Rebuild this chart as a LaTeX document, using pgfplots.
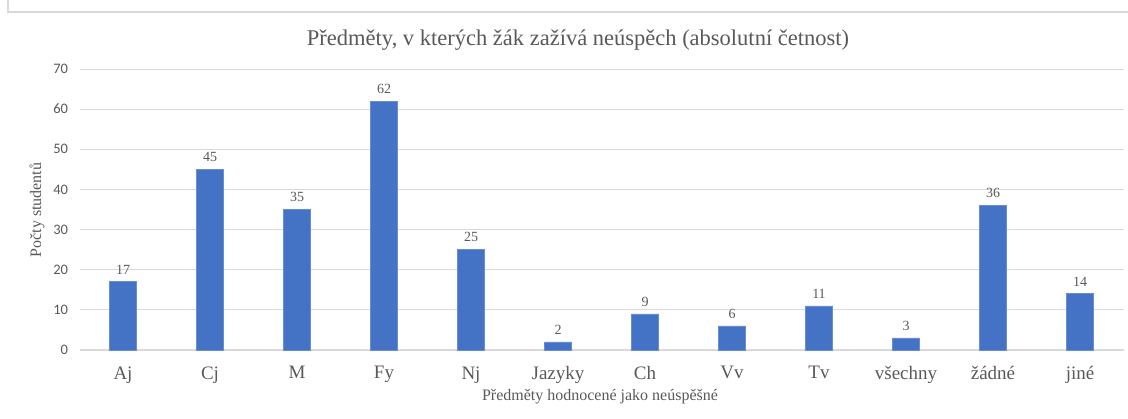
\documentclass[border=0pt]{standalone}
\usepackage{fontspec}
\setmainfont{Liberation Serif}
\newfontfamily\tickfont{Carlito}
\usepackage{pgfplots}
\pgfplotsset{compat=1.18}
\definecolor{barblue}{HTML}{4472C4}
\definecolor{txtgray}{HTML}{595959}
\definecolor{gridgray}{HTML}{D9D9D9}
\begin{document}
\begin{tikzpicture}[x=1pt,y=1pt]
\path[use as bounding box] (0,0) rectangle (1128,418);
\draw[gridgray,line width=1.4pt] (8,420) -- (8,406) -- (1130,406);
\begin{axis}[
  at={(79.5pt,68pt)}, anchor=south west,
  scale only axis,
  width=1044pt, height=281pt,
  xmin=-0.5, xmax=11.5, ymin=0, ymax=70,
  ytick={0,10,...,70},
  xtick={0,...,11},
  xticklabels={Aj,Cj,M,Fy,Nj,Jazyky,Ch,Vv,Tv,všechny,žádné,jiné},
  axis x line*=bottom, axis y line*=left,
  y axis line style={draw=none},
  x axis line style={gridgray,line width=1.2pt},
  ymajorgrids, grid style={gridgray,line width=0.9pt},
  major tick length=0pt,
  tick style={draw=none},
  yticklabel style={font=\tickfont\fontsize{14.5}{14.5}\selectfont,text=txtgray,xshift=-8pt},
  xticklabel style={font=\fontsize{19}{19}\selectfont,text=txtgray,yshift=-13pt},
  /pgf/number format/assume math mode=true,
  ybar, bar width=27pt,
  nodes near coords,
  every node near coord/.append style={font=\fontsize{14}{14}\selectfont,text=txtgray,yshift=4pt},
  clip=false,
]
\addplot[fill=barblue,draw=barblue!80!white,line width=0.6pt] coordinates {
 (0,17) (1,45) (2,35) (3,62) (4,25) (5,2) (6,9) (7,6) (8,11) (9,3) (10,36) (11,14)};
\end{axis}
\node[text=txtgray,font=\fontsize{22.5}{22.5}\selectfont] at (578,378) {Předměty, v kterých žák zažívá neúspěch (absolutní četnost)};
\node[text=txtgray,font=\fontsize{16}{16}\selectfont] at (600,21) {Předměty hodnocené jako neúspěšné};
\node[text=txtgray,font=\fontsize{16}{16}\selectfont,rotate=90] at (37,208) {Počty studentů};
\end{tikzpicture}
\end{document}
